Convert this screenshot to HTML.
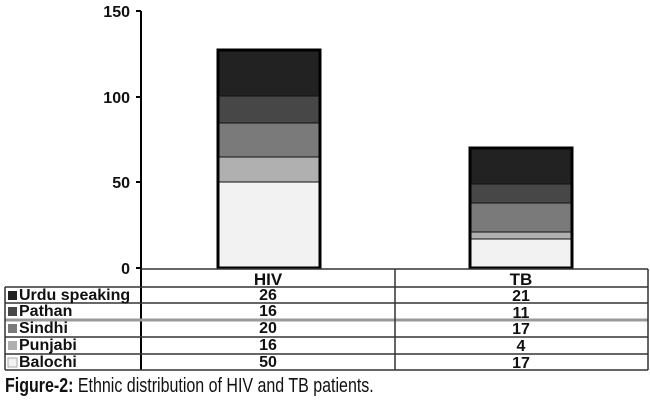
<!DOCTYPE html>
<html><head><style>
body{margin:0;background:#fff;}
svg text{font-family:"Liberation Sans",Arial,sans-serif;}
</style></head><body>
<svg width="650" height="403" viewBox="0 0 650 403" xmlns="http://www.w3.org/2000/svg">
<rect width="650" height="403" fill="#fff"/>
<line x1="141" y1="11" x2="141" y2="370" stroke="#000" stroke-width="2"/>
<g stroke="#000" stroke-width="2">
<line x1="136" y1="11" x2="141" y2="11"/><line x1="136" y1="97" x2="141" y2="97"/>
<line x1="136" y1="182" x2="141" y2="182"/><line x1="136" y1="268" x2="141" y2="268"/>
</g>
<g font-weight="bold" font-size="16" text-anchor="end" fill="#111">
<text x="130" y="17">150</text><text x="130" y="103">100</text>
<text x="130" y="188">50</text><text x="130" y="274">0</text>
</g>
<g stroke="#111" stroke-width="1">
<rect x="218" y="182" width="102" height="86" fill="#f2f2f2"/>
<rect x="218" y="157" width="102" height="25" fill="#b0b0b0"/>
<rect x="218" y="123" width="102" height="34" fill="#7a7a7a"/>
<rect x="218" y="96" width="102" height="27" fill="#474747"/>
<rect x="218" y="50" width="102" height="46" fill="#222"/>
</g>
<rect x="218" y="50" width="102" height="218" fill="none" stroke="#000" stroke-width="3"/>
<g stroke="#111" stroke-width="1">
<rect x="470" y="239" width="102" height="29" fill="#f2f2f2"/>
<rect x="470" y="232" width="102" height="7" fill="#b0b0b0"/>
<rect x="470" y="203" width="102" height="29" fill="#7a7a7a"/>
<rect x="470" y="184" width="102" height="19" fill="#474747"/>
<rect x="470" y="148" width="102" height="36" fill="#222"/>
</g>
<rect x="470" y="148" width="102" height="120" fill="none" stroke="#000" stroke-width="3"/>
<g stroke="#333" stroke-width="1.5" fill="none">
<line x1="141" y1="269" x2="648" y2="269"/>
<line x1="5" y1="287" x2="648" y2="287"/>
<line x1="5" y1="303" x2="648" y2="303"/>
<line x1="5" y1="320" x2="648" y2="320" stroke="#999" stroke-width="3"/>
<line x1="5" y1="337" x2="648" y2="337"/>
<line x1="5" y1="354" x2="648" y2="354"/>
<line x1="5" y1="370" x2="648" y2="370"/>
<line x1="5" y1="287" x2="5" y2="370"/>
<line x1="395" y1="269" x2="395" y2="370"/>
<line x1="648" y1="269" x2="648" y2="370"/>
</g>
<g font-weight="bold" font-size="16" fill="#111">
<text x="268" y="285" text-anchor="middle" font-size="17">HIV</text>
<text x="521" y="285" text-anchor="middle" font-size="17">TB</text>
<rect x="8" y="291" width="9" height="9" fill="#222"/><text x="19" y="300">Urdu speaking</text>
<rect x="8" y="307" width="9" height="9" fill="#474747"/><text x="19" y="316">Pathan</text>
<rect x="8" y="324" width="9" height="9" fill="#7a7a7a"/><text x="19" y="333">Sindhi</text>
<rect x="8" y="341" width="9" height="9" fill="#b0b0b0"/><text x="19" y="350">Punjabi</text>
<rect x="8" y="358" width="9" height="9" fill="#f2f2f2" stroke="#aaa"/><text x="19" y="367">Balochi</text>
<g text-anchor="middle">
<text x="268" y="300">26</text><text x="521" y="301">21</text>
<text x="268" y="316">16</text><text x="521" y="318">11</text>
<text x="268" y="333">20</text><text x="521" y="334">17</text>
<text x="268" y="350">16</text><text x="521" y="351">4</text>
<text x="268" y="367">50</text><text x="521" y="368">17</text>
</g>
</g>
<text x="5" y="392" font-size="20" fill="#111" transform="scale(0.8,1)" style="transform-origin:5px 392px"><tspan font-weight="bold">Figure-2:</tspan> Ethnic distribution of HIV and TB patients.</text>
</svg>
</body></html>
